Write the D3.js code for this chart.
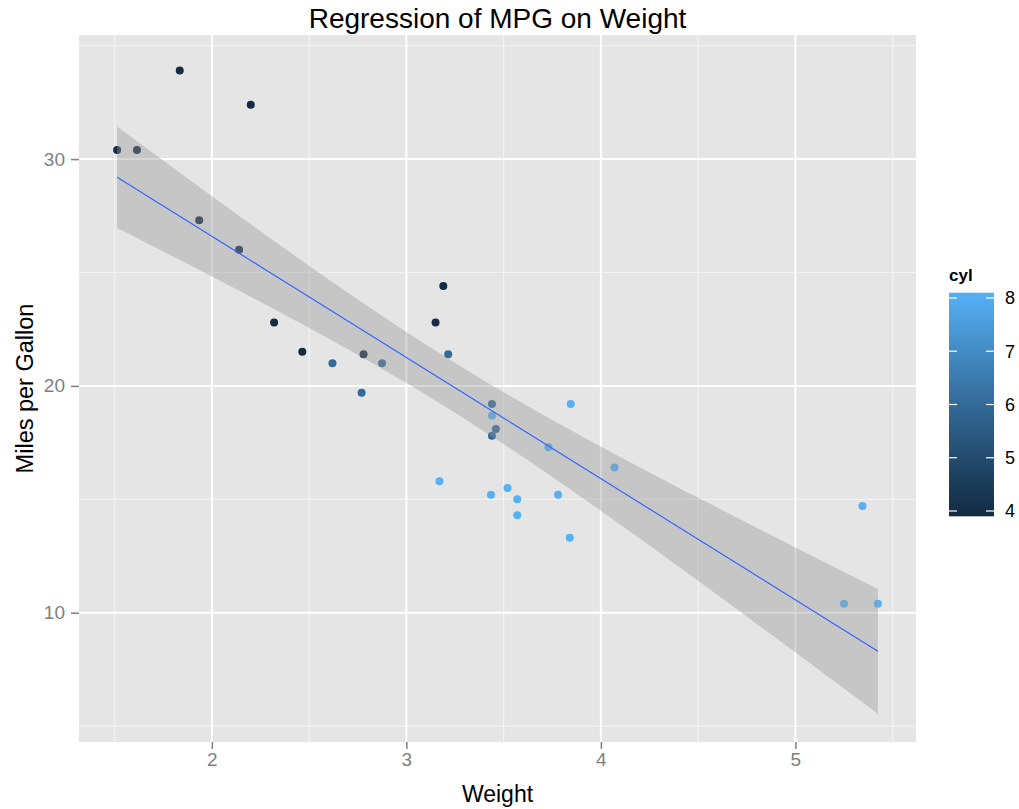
<!DOCTYPE html>
<html><head><meta charset="utf-8">
<script src="https://cdn.jsdelivr.net/npm/d3@7"></script>
<style>body{margin:0;background:#fff}svg{display:block;font-family:"Liberation Sans",Arial,sans-serif}</style>
</head><body><svg id="c" width="1019" height="809"></svg>
<script>
const weight = [2.620,2.875,2.320,3.215,3.440,3.460,3.570,3.190,3.150,3.440,3.440,4.070,3.730,3.780,5.250,5.424,5.345,2.200,1.615,1.835,2.465,3.520,3.435,3.840,3.845,1.935,2.140,1.513,3.170,2.770,3.570,2.780];
const mpg = [21.0,21.0,22.8,21.4,18.7,18.1,14.3,24.4,22.8,19.2,17.8,16.4,17.3,15.2,10.4,10.4,14.7,32.4,30.4,33.9,21.5,15.5,15.2,13.3,19.2,27.3,26.0,30.4,15.8,19.7,15.0,21.4];
const cyl = [6,6,4,6,8,6,8,4,4,6,6,8,8,8,8,8,8,4,4,4,4,8,8,8,8,4,4,4,8,6,8,4];
const xTicks = [2,3,4,5];
const yTicks = [10,20,30];
const cylTicks = [4,5,6,7,8];
const tCrit = 2.042272; // qt(0.975, 30)

const svg = d3.select("#c");
const L=79, R=916, T=35, B=742;
const x = d3.scaleLinear().domain([1.317,5.620]).range([L,R]);
const y = d3.scaleLinear().domain([4.30,35.47]).range([B,T]);
const col = d3.scaleLinear().domain([4,8]).range(["#132B43","#56B1F7"]).interpolate(d3.interpolateLab);

// regression
const n = weight.length;
const mx = d3.mean(weight), my = d3.mean(mpg);
let sxx=0, sxy=0; weight.forEach((w,i)=>{sxx+=(w-mx)**2; sxy+=(w-mx)*(mpg[i]-my);});
const b1 = sxy/sxx, b0 = my-b1*mx;
let sse=0; weight.forEach((w,i)=>{sse+=(mpg[i]-b0-b1*w)**2;});
const s = Math.sqrt(sse/(n-2));
const wmin=d3.min(weight), wmax=d3.max(weight);
const fit = d3.range(80).map(i=>{const w=wmin+(wmax-wmin)*i/79; const f=b0+b1*w; const se=s*Math.sqrt(1/n+(w-mx)**2/sxx); return {w,f,lo:f-tCrit*se,hi:f+tCrit*se};});

// panel
svg.append("rect").attr("x",L).attr("y",T).attr("width",R-L).attr("height",B-T).attr("fill","#E5E5E5");
const xMinor = [1.5,2.5,3.5,4.5,5.5], yMinor=[5,15,25,35];
svg.selectAll(".xm").data(xMinor).enter().append("line").attr("x1",d=>x(d)).attr("x2",d=>x(d)).attr("y1",T).attr("y2",B).attr("stroke","#F2F2F2").attr("stroke-width",1.2);
svg.selectAll(".ym").data(yMinor).enter().append("line").attr("y1",d=>y(d)).attr("y2",d=>y(d)).attr("x1",L).attr("x2",R).attr("stroke","#F2F2F2").attr("stroke-width",1.2);
svg.selectAll(".xg").data(xTicks).enter().append("line").attr("x1",d=>x(d)).attr("x2",d=>x(d)).attr("y1",T).attr("y2",B).attr("stroke","#fff").attr("stroke-width",2);
svg.selectAll(".yg").data(yTicks).enter().append("line").attr("y1",d=>y(d)).attr("y2",d=>y(d)).attr("x1",L).attr("x2",R).attr("stroke","#fff").attr("stroke-width",2);

// points
svg.selectAll(".pt").data(weight).enter().append("circle").attr("cx",d=>x(d)).attr("cy",(d,i)=>y(mpg[i])).attr("r",4).attr("fill",(d,i)=>col(cyl[i]));

// ribbon and line
svg.append("path").datum(fit).attr("d",d3.area().x(d=>x(d.w)).y0(d=>y(d.lo)).y1(d=>y(d.hi))).attr("fill","#999999").attr("fill-opacity",0.4);
svg.append("path").datum(fit).attr("d",d3.line().x(d=>x(d.w)).y(d=>y(d.f))).attr("fill","none").attr("stroke","#3366FF").attr("stroke-width",1.2);

// axes
const ax = svg.append("g").attr("transform",`translate(0,${B})`).call(d3.axisBottom(x).tickValues(xTicks).tickSize(7).tickPadding(4).tickFormat(d3.format("d")));
const ay = svg.append("g").attr("transform",`translate(${L},0)`).call(d3.axisLeft(y).tickValues(yTicks).tickSize(8).tickPadding(6).tickFormat(d3.format("d")));
[ax,ay].forEach(a=>{a.select(".domain").remove(); a.selectAll(".tick line").attr("stroke","#7F7F7F").attr("stroke-width",1.5); a.selectAll(".tick text").attr("fill","#7F7F7F").attr("font-size",19).attr("font-family","Liberation Sans, Arial, sans-serif");});

// titles
svg.append("text").attr("x",(L+R)/2).attr("y",28).attr("text-anchor","middle").attr("font-size",28).attr("fill","#000").text("Regression of MPG on Weight");
svg.append("text").attr("x",(L+R)/2).attr("y",802).attr("text-anchor","middle").attr("font-size",23).attr("fill","#000").text("Weight");
svg.append("text").attr("transform",`translate(33,${(T+B)/2}) rotate(-90)`).attr("text-anchor","middle").attr("font-size",23.5).attr("fill","#000").text("Miles per Gallon");

// legend
const lg = svg.append("g");
const cy = d3.scaleLinear().domain([4,8]).range([511,298]);
const grad = svg.append("defs").append("linearGradient").attr("id","g").attr("x1",0).attr("y1",1).attr("x2",0).attr("y2",0);
d3.range(0,1.0001,0.1).forEach(t=>grad.append("stop").attr("offset",t).attr("stop-color",col(4+4*t)));
const bx0=949, bx1=994;
lg.append("rect").attr("x",bx0).attr("y",cy(8.1)).attr("width",bx1-bx0).attr("height",cy(3.9)-cy(8.1)).attr("fill","url(#g)");
lg.append("text").attr("x",bx0).attr("y",281).attr("font-size",17).attr("font-weight","bold").text("cyl");
cylTicks.forEach(v=>{
  lg.append("line").attr("x1",bx0).attr("x2",bx0+8).attr("y1",cy(v)).attr("y2",cy(v)).attr("stroke","#fff").attr("stroke-width",1.2);
  lg.append("line").attr("x1",bx1-8).attr("x2",bx1).attr("y1",cy(v)).attr("y2",cy(v)).attr("stroke","#fff").attr("stroke-width",1.2);
});
lg.selectAll(".lt").data(cylTicks).enter().append("text").attr("x",1005).attr("y",d=>cy(d)).attr("dy","0.35em").attr("font-size",18).attr("fill","#000").text(d=>d);
</script></body></html>
